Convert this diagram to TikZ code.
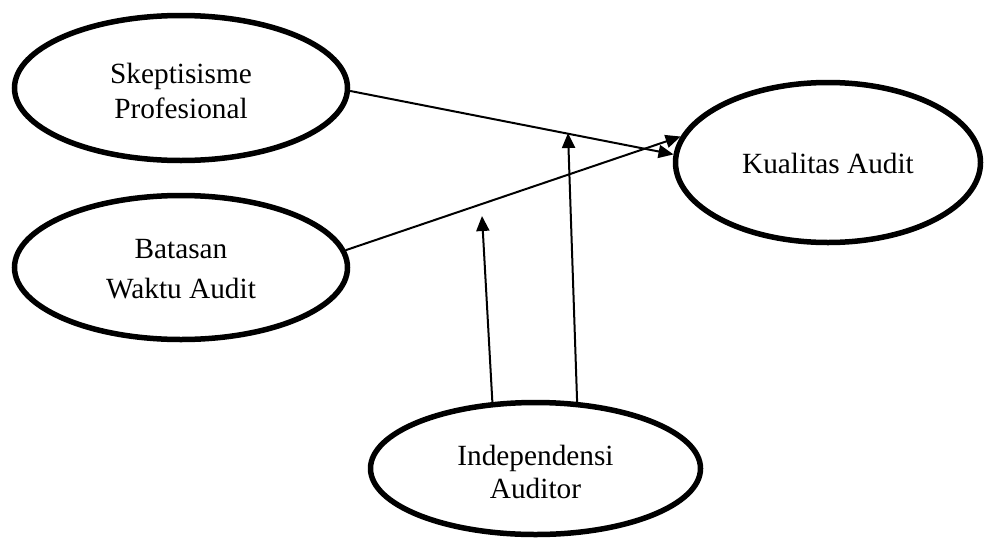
\documentclass[tikz,border=0pt]{standalone}
\usepackage{fontspec}
\setmainfont{Liberation Serif}
\usetikzlibrary{shapes.geometric,arrows.meta}
\begin{document}
\begin{tikzpicture}[x=1pt,y=-1pt,
  var/.style={ellipse,draw,line width=5.5pt,inner sep=0pt,align=center,text depth=0pt},
  conn/.style={line width=2pt,-{Triangle[length=15pt,width=13pt]}}]
\useasboundingbox (0,0) rectangle (984,541);
\node[var,minimum width=333pt,minimum height=145pt,text height=60pt,font=\fontsize{29.3}{35}\selectfont] (sk) at (181,88) {Skeptisisme\\Profesional};
\node[var,minimum width=333pt,minimum height=144pt,text height=61pt,font=\fontsize{29.3}{40}\selectfont] (bw) at (181,267.5) {Batasan\\Waktu Audit};
\node[var,minimum width=305pt,minimum height=160pt,text height=21pt,font=\fontsize{29.3}{35}\selectfont] (ka) at (828,162.5) {Kualitas Audit};
\node[var,minimum width=330pt,minimum height=132pt,text height=59pt,font=\fontsize{29.3}{33}\selectfont] (ia) at (535.5,468.5) {Independensi\\Auditor};
\coordinate (m1) at (482,216);
\coordinate (m2) at (568,133);
\draw[conn] (sk.-1.7) -- (ka.177.5);
\draw[conn] (bw.6) -- (ka.170.4);
\draw[conn] (ia.123.2) -- (m1);
\draw[conn] (ia.58.6) -- (m2);
\end{tikzpicture}
\end{document}
